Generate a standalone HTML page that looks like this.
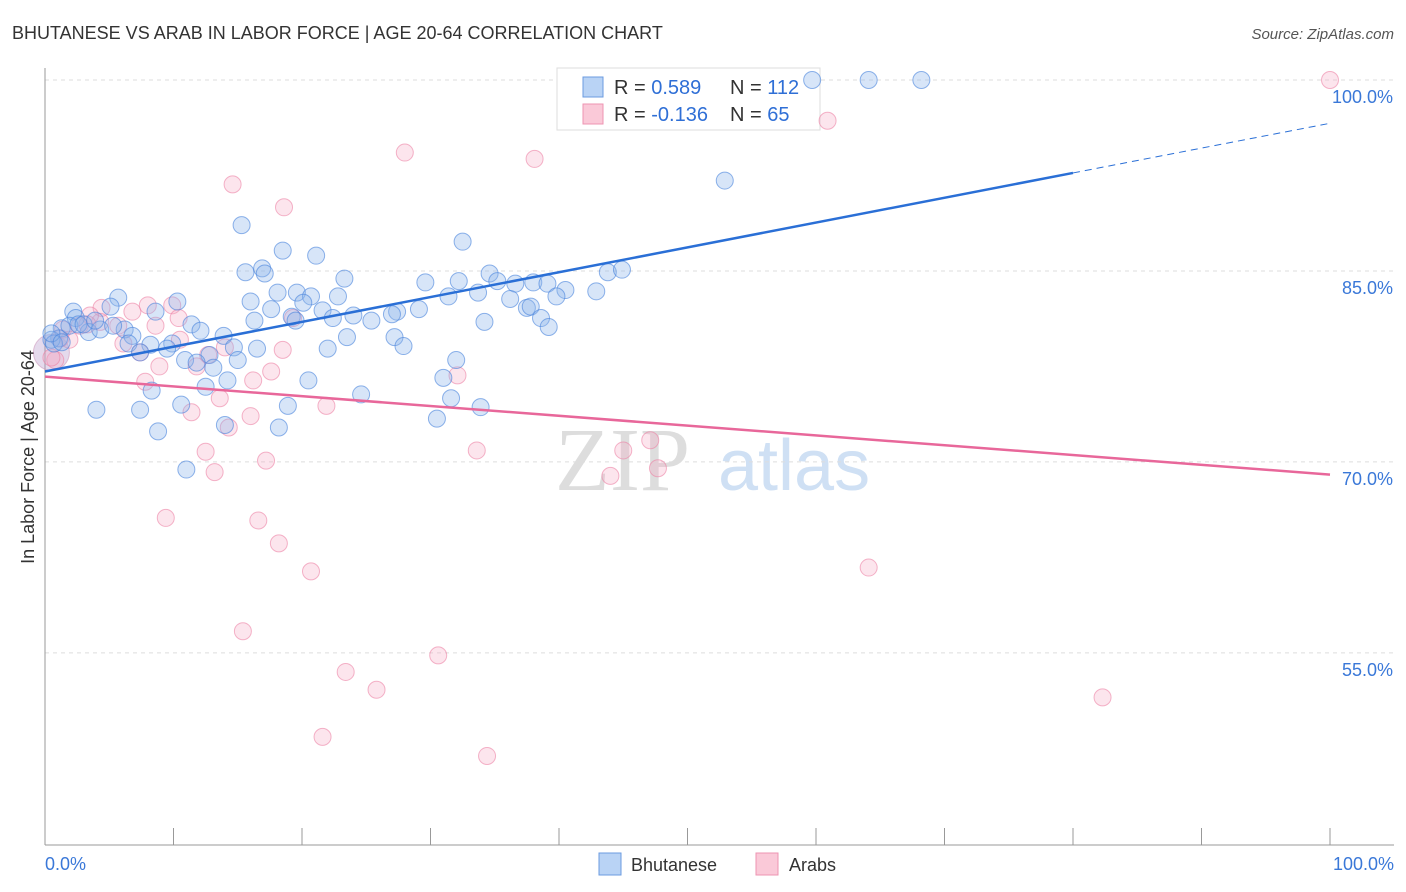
<!DOCTYPE html>
<html><head><meta charset="utf-8"><style>
body{margin:0;background:#fff;font-family:"Liberation Sans",sans-serif}
svg{display:block}
</style></head><body>
<svg id="c" width="1406" height="892">
<text x="12" y="39" font-size="18" fill="#333">BHUTANESE VS ARAB IN LABOR FORCE | AGE 20-64 CORRELATION CHART</text>
<text x="1394" y="39" font-size="15" fill="#555" font-style="italic" text-anchor="end">Source: ZipAtlas.com</text>
<text x="34" y="457" font-size="18" fill="#333" text-anchor="middle" transform="rotate(-90 34 457)">In Labor Force | Age 20-64</text>
<g><text x="555" y="490" font-size="90" fill="#ddd" font-family="Liberation Serif,serif">ZIP</text><text x="718" y="490" font-size="72" fill="#cfe0f4">atlas</text></g>
<g id="grid"></g>
<g>
<rect x="557" y="68" width="263" height="62" fill="#fff" stroke="#ddd"/>
<rect x="583" y="77" width="20" height="20" fill="#b9d3f5" stroke="#6b9be0"/>
<rect x="583" y="104" width="20" height="20" fill="#fac9d8" stroke="#ee94b2"/>
<text x="614" y="94" font-size="20" fill="#333">R = <tspan fill="#2f6fd6">0.589</tspan><tspan x="730">N = </tspan><tspan fill="#2f6fd6">112</tspan></text>
<text x="614" y="121" font-size="20" fill="#333">R = <tspan fill="#2f6fd6">-0.136</tspan><tspan x="730">N = </tspan><tspan fill="#2f6fd6"> 65</tspan></text>
</g>
<g id="pts"></g><g id="lines"></g>
<g>
<rect x="599" y="853" width="22" height="22" fill="#b9d3f5" stroke="#6b9be0"/>
<text x="631" y="871" font-size="18" fill="#333">Bhutanese</text>
<rect x="756" y="853" width="22" height="22" fill="#fac9d8" stroke="#ee94b2"/>
<text x="789" y="871" font-size="18" fill="#333">Arabs</text>
</g>
</svg>
<script>
const yTicks=[100,85,70,55];
const blueX=[59.7,64.1,68.2,52.9,15.3,32.5,18.5,21.1,15.6,16.9,17.1,34.6,43.8,44.9,23.3,29.6,32.2,35.2,36.6,38.0,39.1,40.5,42.9,39.8,31.4,33.7,36.2,18.1,19.6,20.7,22.8,5.7,10.3,5.1,16.0,17.6,20.1,29.1,27.4,37.5,37.8,38.6,39.2,34.2,21.6,24.0,22.4,25.4,27.0,2.2,2.4,8.6,11.4,12.1,19.2,19.5,16.3,1.3,3.4,6.2,1.1,0.5,6.8,6.5,8.2,9.9,9.5,13.9,14.7,12.8,15.0,16.5,22.0,23.5,27.2,27.9,0.7,7.4,10.9,11.8,13.1,14.2,12.5,32.0,31.0,20.5,8.3,24.6,31.6,10.6,18.9,33.9,4.0,7.4,30.5,8.8,14.0,18.2,11.0,0.5,1.3,4.3,5.3,1.9,2.6,3.0,3.9];
const blueY=[100,100,100,92.1,88.6,87.3,86.6,86.2,84.9,85.2,84.8,84.8,84.9,85.1,84.4,84.1,84.2,84.2,84.0,84.1,84.0,83.5,83.4,83.0,83.0,83.3,82.8,83.3,83.3,83.0,83.0,82.9,82.6,82.2,82.6,82.0,82.5,82.0,81.8,82.1,82.2,81.3,80.6,81.0,81.9,81.5,81.3,81.1,81.6,81.8,81.3,81.8,80.8,80.3,81.4,81.1,81.1,80.5,80.2,80.4,79.7,79.6,79.9,79.3,79.2,79.3,78.9,79.9,79.0,78.4,78.0,78.9,78.9,79.8,79.8,79.1,79.3,78.6,78.0,77.8,77.4,76.4,75.9,78.0,76.6,76.4,75.6,75.3,75.0,74.5,74.4,74.3,74.1,74.1,73.4,72.4,72.9,72.7,69.4,80.1,79.4,80.4,80.7,80.7,80.8,80.8,81.1];
const pinkX=[100,60.9,28.0,38.1,14.6,18.6,4.4,6.8,8.0,9.9,4.3,5.7,8.6,10.4,3.5,1.2,1.4,2.7,0.8,10.5,12.7,14.0,18.5,19.3,6.1,7.4,8.9,11.8,17.6,16.2,7.8,13.6,11.4,16.0,21.9,32.1,14.3,12.5,33.6,17.2,13.2,45.0,47.1,47.7,44.0,9.4,16.6,18.2,20.7,64.1,15.4,30.6,23.4,25.8,82.3,21.6,34.4,0.5,3.3,1.9];
const pinkY=[100,96.8,94.3,93.8,91.8,90.0,82.1,81.8,82.3,82.3,81.0,80.7,80.7,81.3,81.5,79.7,80.4,80.7,78.0,79.6,78.4,79.0,78.8,81.3,79.3,78.6,77.5,77.5,77.1,76.4,76.3,75.0,73.9,73.6,74.4,76.8,72.7,70.8,70.9,70.1,69.2,70.9,71.7,69.5,68.9,65.6,65.4,63.6,61.4,61.7,56.7,54.8,53.5,52.1,51.5,48.4,46.9,78.2,80.8,79.6];
const blueTrend=[77.1,0.195];
const pinkTrend=[76.7,-0.077];
const NS='http://www.w3.org/2000/svg';
const X0=45,X1=1330,YT=80,PXY=12.73,YB=845;
const sx=v=>X0+(X1-X0)*v/100, sy=v=>YT+(100-v)*PXY;
function mk(t,a,p){const e=document.createElementNS(NS,t);for(const k in a)e.setAttribute(k,a[k]);p.appendChild(e);return e;}
const g=document.getElementById('grid'),P=document.getElementById('pts'),L=document.getElementById('lines');
yTicks.forEach(t=>{
 const l=mk('line',{x1:X0,x2:1394,y1:sy(t),y2:sy(t),stroke:'#ddd','stroke-dasharray':'4,4'},g);
 
 
 const tx=mk('text',{x:1393,y:sy(t)+23,'font-size':18,fill:'#3a78d8','text-anchor':'end'},g);tx.textContent=t.toFixed(1)+'%';
 
 
});
mk('line',{x1:X0,x2:X0,y1:68,y2:YB,stroke:'#999'},g);
mk('line',{x1:X0,x2:1394,y1:YB,y2:YB,stroke:'#999'},g);
for(let i=0;i<=10;i++){mk('line',{x1:sx(i*10),x2:sx(i*10),y1:828,y2:YB,stroke:'#999'},g);}
const xl=mk('text',{x:45,y:870,'font-size':18,fill:'#3a78d8'},g);xl.textContent='0.0%';


const xr=mk('text',{x:1394,y:870,'font-size':18,fill:'#3a78d8','text-anchor':'end'},g);xr.textContent='100.0%';


const big=mk('circle',{cx:sx(0.5),cy:sy(78.6),r:18,fill:'rgba(180,150,200,0.35)',stroke:'rgba(200,140,180,0.5)'},P);


pinkX.forEach((x,i)=>{const c=mk('circle',{cx:sx(x),cy:sy(pinkY[i]),r:8.5,fill:'rgba(246,170,195,0.3)',stroke:'rgba(236,130,165,0.6)'},P);
 
 });
blueX.forEach((x,i)=>{const c=mk('circle',{cx:sx(x),cy:sy(blueY[i]),r:8.5,fill:'rgba(140,180,235,0.35)',stroke:'rgba(70,130,220,0.6)'},P);
 
 });
const bl=mk('line',{x1:sx(0),y1:sy(blueTrend[0]),x2:sx(80),y2:sy(blueTrend[0]+blueTrend[1]*80),stroke:'#2a6fd6','stroke-width':2.5},L);


const bd=mk('line',{x1:sx(80),y1:sy(blueTrend[0]+blueTrend[1]*80),x2:sx(100),y2:sy(blueTrend[0]+blueTrend[1]*100),stroke:'#2a6fd6','stroke-width':1,'stroke-dasharray':'7,5'},L);


const pl=mk('line',{x1:sx(0),y1:sy(pinkTrend[0]),x2:sx(100),y2:sy(pinkTrend[0]+pinkTrend[1]*100),stroke:'#e8679a','stroke-width':2.5},L);


</script>
</body></html>
